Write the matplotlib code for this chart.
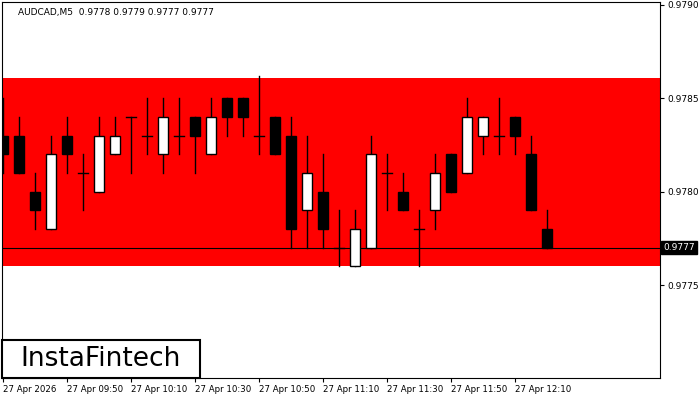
import matplotlib
matplotlib.use("Agg")
import matplotlib.pyplot as plt
from matplotlib.patches import Rectangle

opens  = [.9783,.9783,.9780,.9778,.9783,.9781,.9780,.9782,.9784,.9783,.9782,.9783,.9784,.9782,.9785,.9785,.9783,.9784,.9783,
          .9779,.9780,.9777,.9776,.9777,.9781,.9780,.9778,.9779,.9782,.9781,.9783,.9783,.9784,.9782,.9778]
highs  = [.9785,.9784,.9781,.9783,.9784,.9782,.9784,.9784,.9784,.9785,.9785,.9785,.9784,.9785,.9785,.9785,.97862,.9784,.9784,
          .9783,.9782,.9779,.9779,.9783,.9782,.9781,.9779,.9782,.9782,.9785,.9784,.9785,.9784,.9783,.9779]
lows   = [.9781,.9781,.9778,.9778,.9781,.9779,.9780,.9782,.9781,.9782,.9781,.9782,.9781,.9782,.9783,.9783,.9782,.9782,.9777,
          .9777,.9777,.9776,.9776,.9777,.9779,.9779,.9776,.9778,.9780,.9781,.9782,.9782,.9782,.9779,.9777]
closes = [.9782,.9781,.9779,.9782,.9782,.9781,.9783,.9783,.9784,.9783,.9784,.9783,.9783,.9784,.9784,.9784,.9783,.9782,.9778,
          .9781,.9778,.9777,.9778,.9782,.9781,.9779,.9778,.9781,.9780,.9784,.9784,.9783,.9783,.9779,.9777]
tick_idx = [0,4,8,12,16,20,24,28,32]
tick_labels = ["27 Apr 2026","27 Apr 09:50","27 Apr 10:10","27 Apr 10:30","27 Apr 10:50",
               "27 Apr 11:10","27 Apr 11:30","27 Apr 11:50","27 Apr 12:10"]
zone_top, zone_bottom = 0.97861, 0.97760
current = 0.9777
price_ticks = [0.9775, 0.9780, 0.9785, 0.9790]

fig = plt.figure(figsize=(7,4), dpi=100)
ax = fig.add_axes([2/700, 22/400, 658/700, 376/400])
ax.set_xlim(-0.0625, 41.06)
ax.set_ylim(0.977002, 0.979016)
ax.axhspan(zone_bottom, zone_top, color='#ff0000', zorder=0, lw=0)
ax.axhline(current, color='black', lw=0.8, zorder=1)
w = 0.68
for i,(o,h,l,c) in enumerate(zip(opens,highs,lows,closes)):
    ax.plot([i,i],[l,h], color='black', lw=1, zorder=2)
    if o == c:
        ax.plot([i-w/2,i+w/2],[o,o], color='black', lw=1, zorder=3)
    else:
        ax.add_patch(Rectangle((i-w/2, min(o,c)), w, abs(c-o),
                     facecolor='white' if c>o else 'black', edgecolor='black', lw=1, zorder=3))
ax.yaxis.tick_right()
ax.set_yticks(price_ticks)
ax.set_yticklabels([f"{p:.4f}" for p in price_ticks], fontsize=6.5)
ax.set_xticks(tick_idx)
ax.set_xticklabels(tick_labels, fontsize=6.2, ha='left')
ax.tick_params(length=3, pad=2)
for s in ax.spines.values():
    s.set_linewidth(0.8)
ax.text(0.025, 0.985, "AUDCAD,M5  0.9778 0.9779 0.9777 0.9777", transform=ax.transAxes,
        fontsize=6.5, va='top')
ax.text(1.005, current, f"{current:.4f}", transform=ax.get_yaxis_transform(), fontsize=6.5,
        va='center', ha='left', color='white',
        bbox=dict(facecolor='black', edgecolor='black', pad=1.5), clip_on=False)
fig.patches.append(Rectangle((2/700, 22/400), 198/700, 38/400, transform=fig.transFigure,
                   facecolor='white', edgecolor='black', lw=1.5, zorder=5))
fig.text(101/700, 41/400, "InstaFintech", fontsize=19, ha='center', va='center', zorder=6)
fig.savefig("out.png", dpi=100)
